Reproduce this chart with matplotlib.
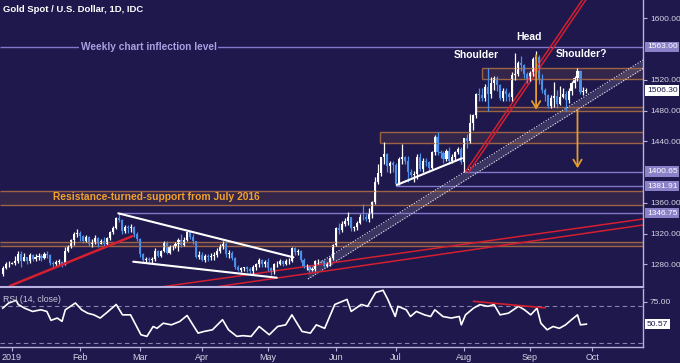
import matplotlib
matplotlib.use("Agg")
import matplotlib.pyplot as plt
import matplotlib.transforms as mtransforms
import numpy as np

# x = weekday index counted from 1 Jan 2019 (27 Dec 2018 = -3)
days = np.arange(-3, 194)
opens = [1267, 1275, 1280, 1281, 1282, 1284, 1294, 1285, 1289, 1284, 1292, 1287, 1289, 1291, 1288, 1293, 1292,
         1282, 1280, 1283, 1283, 1280, 1298, 1303, 1312, 1319, 1321, 1317, 1311, 1315, 1307, 1309, 1314, 1307,
         1311, 1306, 1314, 1322, 1327, 1340, 1338, 1323, 1329, 1327, 1328, 1319, 1313, 1293, 1286, 1287, 1286,
         1287, 1298, 1291, 1297, 1309, 1295, 1302, 1303, 1306, 1312, 1305, 1312, 1322, 1315, 1310, 1290, 1292,
         1286, 1291, 1290, 1291, 1292, 1298, 1303, 1306, 1293, 1295, 1288, 1276, 1273, 1275, 1276, 1274, 1271,
         1276, 1280, 1286, 1280, 1283, 1275, 1270, 1280, 1281, 1285, 1281, 1284, 1285, 1301, 1296, 1298, 1286,
         1277, 1278, 1273, 1274, 1284, 1285, 1284, 1278, 1280, 1288, 1305, 1327, 1325, 1333, 1337, 1341, 1327,
         1328, 1334, 1342, 1341, 1339, 1346, 1361, 1387, 1399, 1419, 1423, 1408, 1412, 1409, 1384, 1417, 1419,
         1415, 1400, 1396, 1397, 1420, 1404, 1415, 1413, 1405, 1426, 1446, 1426, 1425, 1417, 1427, 1414, 1419,
         1426, 1430, 1413, 1445, 1440, 1464, 1474, 1501, 1500, 1496, 1511, 1501, 1516, 1523, 1513, 1496, 1506,
         1502, 1498, 1526, 1528, 1542, 1539, 1527, 1520, 1529, 1547, 1550, 1520, 1507, 1500, 1486, 1497, 1499,
         1488, 1498, 1501, 1494, 1506, 1516, 1522, 1531, 1504, 1505]
highs = [1278, 1283, 1284, 1283, 1291, 1298, 1298, 1295, 1290, 1295, 1294, 1294, 1295, 1294, 1296, 1297, 1294,
         1284, 1286, 1287, 1285, 1302, 1305, 1313, 1322, 1326, 1323, 1318, 1318, 1317, 1313, 1318, 1315, 1313,
         1315, 1316, 1324, 1330, 1342, 1346.75, 1339, 1331, 1331, 1332, 1330, 1322, 1314, 1295, 1290, 1289, 1290,
         1301, 1299, 1299, 1311, 1310, 1305, 1305, 1309, 1314, 1320, 1315, 1324, 1323, 1320, 1311, 1297, 1296,
         1293, 1294, 1295, 1296, 1301, 1306, 1310, 1309, 1299, 1297, 1289, 1279, 1277, 1276, 1278, 1276, 1279,
         1282, 1288, 1287, 1286, 1288, 1276, 1282, 1285, 1287, 1286, 1287, 1288, 1303, 1302, 1300, 1299, 1288,
         1280, 1279, 1277, 1286, 1287, 1286, 1286, 1283, 1290, 1307, 1329, 1334, 1336, 1340, 1348, 1342, 1330,
         1337, 1345, 1358, 1345, 1353, 1362, 1393, 1411, 1420, 1439, 1425, 1415, 1414, 1412, 1419, 1437, 1421,
         1421, 1404, 1402, 1423, 1425, 1418, 1418, 1415, 1428, 1448, 1452.6, 1429, 1427, 1430, 1433, 1423, 1428,
         1432, 1433, 1445, 1449, 1475, 1475, 1503, 1509, 1510, 1515, 1535, 1524, 1525, 1525, 1514, 1509, 1509,
         1504, 1530, 1555, 1544, 1551, 1540, 1530, 1531, 1550, 1557, 1552, 1528, 1510, 1502, 1500, 1517, 1507,
         1512, 1509, 1506, 1510, 1518, 1525, 1535, 1533, 1511, 1509]
lows = [1265, 1274, 1276, 1280, 1279, 1282, 1276, 1285, 1280, 1282, 1284, 1285, 1286, 1284, 1287, 1288, 1279,
        1277, 1276, 1279, 1276, 1279, 1296, 1301, 1305, 1315, 1310, 1308, 1309, 1304, 1303, 1307, 1302, 1306,
        1303, 1304, 1312, 1320, 1326, 1335, 1320, 1321, 1321, 1322, 1315, 1311, 1290, 1283, 1282, 1281, 1281,
        1284, 1289, 1290, 1296, 1293, 1293, 1299, 1301, 1297, 1302, 1304, 1311, 1313, 1307, 1288, 1287, 1284,
        1283, 1285, 1286, 1286, 1290, 1295, 1300, 1290, 1288, 1286, 1274, 1271, 1270, 1272, 1270, 1266, 1268,
        1273, 1276, 1277, 1277, 1272, 1266, 1267, 1276, 1279, 1278, 1279, 1281, 1283, 1292, 1292, 1283, 1275,
        1273, 1270, 1271, 1272, 1280, 1282, 1276, 1276, 1278, 1286, 1304, 1320, 1322, 1330, 1331, 1324, 1323,
        1325, 1332, 1338, 1336, 1335, 1340, 1358, 1384, 1395, 1410, 1400, 1399, 1400, 1382, 1383, 1411, 1410,
        1387, 1393, 1387, 1391, 1401, 1400, 1408, 1400, 1404, 1422, 1422, 1418, 1412, 1414, 1411, 1412, 1415,
        1423, 1411, 1400.65, 1431, 1438, 1455, 1470, 1492, 1493, 1493, 1480, 1496, 1507, 1505, 1494, 1492, 1493,
        1492, 1493, 1520, 1525, 1532, 1522, 1516, 1518, 1525, 1539, 1515, 1503, 1492, 1484, 1483, 1485, 1484,
        1487, 1496, 1480, 1490, 1500, 1510, 1518, 1502, 1500, 1503]
closes = [1275, 1280, 1281, 1282, 1284, 1294, 1285, 1289, 1284, 1292, 1287, 1289, 1291, 1288, 1293, 1292, 1282,
          1280, 1283, 1283, 1280, 1298, 1303, 1312, 1319, 1321, 1317, 1311, 1315, 1307, 1309, 1314, 1307, 1311,
          1306, 1314, 1322, 1327, 1340, 1338, 1323, 1328, 1327, 1328, 1319, 1313, 1293, 1286, 1287, 1286, 1287,
          1298, 1291, 1297, 1309, 1295, 1302, 1303, 1306, 1312, 1305, 1312, 1322, 1315, 1310, 1290, 1292, 1286,
          1291, 1290, 1291, 1292, 1298, 1303, 1306, 1293, 1295, 1288, 1276, 1273, 1275, 1276, 1274, 1271, 1276,
          1280, 1286, 1280, 1283, 1275, 1270, 1280, 1281, 1285, 1281, 1284, 1285, 1301, 1296, 1298, 1286, 1277,
          1278, 1273, 1274, 1284, 1285, 1284, 1278, 1280, 1288, 1305, 1327, 1325, 1333, 1337, 1341, 1327, 1328,
          1334, 1342, 1341, 1339, 1346, 1361, 1387, 1399, 1419, 1423, 1408, 1412, 1409, 1384, 1417, 1419, 1415,
          1400, 1396, 1397, 1420, 1404, 1415, 1413, 1405, 1426, 1446, 1426, 1425, 1417, 1427, 1414, 1419, 1426,
          1430, 1413, 1445, 1440, 1464, 1474, 1501, 1500, 1496, 1511, 1501, 1516, 1523, 1513, 1496, 1506, 1502,
          1498, 1526, 1528, 1542, 1539, 1527, 1520, 1529, 1547, 1550, 1520, 1507, 1500, 1486, 1497, 1499, 1488,
          1498, 1501, 1494, 1506, 1516, 1522, 1531, 1504, 1505, 1506.3]

# RSI(14) trace: (day index, value)
rsi_days = [-3, -1, 1.5, 2.2, 4.3, 7, 9.8, 11.8, 13.2, 15.3, 16.9, 18, 21.4, 23.5, 25.5, 27.6, 29.7, 31.7, 35.1,
            37.2, 39.9, 43.4, 45.4, 47.5, 48.8, 50.9, 53.6, 56.4, 58.9, 60.5, 62.6, 64.6, 67.4, 70.8, 72.8, 75.6,
            77.6, 80.4, 83.1, 86.5, 89.3, 92, 94.1, 97.5, 100.3, 102.3, 105.1, 108.5, 112.6, 114, 117.4, 119.5,
            122.2, 124.7, 126.3, 128.8, 129.7, 132.5, 133.9, 135.9, 138.6, 140.7, 142.1, 144.8, 147.6, 150.3, 151,
            152.4, 155.1, 157.2, 159.9, 162, 164, 166.8, 170.2, 172.2, 174.3, 176.4, 177.7, 179.8, 181.8, 183.9,
            186, 188, 190, 191, 193]
rsi_vals = [68, 73.6, 76.5, 72, 68, 64.4, 66.2, 64.4, 54.7, 57.2, 53.6, 66.2, 73.6, 66.2, 62.5, 60.7, 57.2, 62.5,
            72, 60.7, 60.7, 39, 37.2, 48, 46, 51.6, 49.8, 53.4, 60, 51.6, 40.8, 42.6, 44.4, 55.4, 44.4, 37.2, 38,
            37.2, 48, 39, 48, 49.8, 60.7, 42.6, 40.8, 49.8, 46, 72, 77.5, 64.4, 72, 70, 85, 87.5, 77.5, 58.9, 70,
            66.2, 58.9, 64.4, 60.7, 58.9, 66.2, 58.9, 57.2, 58.9, 49.8, 60.7, 68, 71.8, 70, 71.8, 60.7, 62.5, 70,
            66.2, 60.7, 68, 51.6, 44.4, 48, 46, 49.8, 55.4, 60.7, 49.8, 50.57]

month_ticks = [0, 23, 43, 64, 86, 109, 129, 152, 174, 195]
month_labels = ["2019", "Feb", "Mar", "Apr", "May", "Jun", "Jul", "Aug", "Sep", "Oct"]
price_ticks = [1280, 1320, 1360, 1440, 1480, 1520, 1600]

# marked levels: (price, start day, box label)
levels = [(1563.0, -4, "1563.00"), (1400.65, 152, "1400.65"), (1381.91, 129, "1381.91"), (1346.75, 36, "1346.75")]
# zones: (low, high, start day)
zones = [(1520.7, 1535.0, 158), (1480.0, 1484.5, 156), (1437.5, 1452.5, 123.7),
         (1357.2, 1375.4, -4), (1303.9, 1309.1, -4)]
# trendlines: ((day, price), (day, price))
red_thick = [((-0.6, 1252), (40.7, 1317))]
red_thin = [((50, 1250.6), (212, 1339)), ((68.3, 1250.6), (212, 1331.2)),
            ((152.3, 1400), (191.6, 1623.8)), ((153.5, 1400), (192.8, 1623.8))]
white_lines = [((35.8, 1346.4), (94.6, 1289.2)), ((40.8, 1283.5), (89, 1262.7)),
               ((129.3, 1383.3), (151.2, 1418))]
channel_upper = [(99.5, 1272.7), (212, 1545.8)]
channel_lower = [(99.5, 1261.0), (212, 1534.7)]
arrows = [((176.1, 1552), (176.1, 1481)), ((190, 1481), (190, 1405))]
rsi_divergence = [(155.1, 75.4), (179.1, 68.3)]

BG = "#1e184c"
LAV = "#8178c8"
BROWN = "#9c6445"
RED = "#d41f30"
UP = "#ffffff"
DOWN = "#4d8fe6"
ORANGE = "#e59c2c"
TXT = "#d6d4e6"
FS_AX = 6.0

plt.rcParams["font.family"] = ["Liberation Sans", "DejaVu Sans"]

fig = plt.figure(figsize=(6.8, 3.63), dpi=100, facecolor=BG)
ax = fig.add_axes([0, 1 - 287 / 363, 643 / 680, 287 / 363], facecolor=BG)
rx = fig.add_axes([0, 1 - 346.5 / 363, 643 / 680, 58 / 363], facecolor=BG)

XMIN, XMAX = -3.93, 212.0
ax.set_xlim(XMIN, XMAX)
ax.set_ylim(1250.6, 1623.8)
rx.set_xlim(XMIN, XMAX)
rx.set_ylim(26.2, 89.4)

for a in (ax, rx):
    for s in a.spines.values():
        s.set_visible(False)
    a.spines["right"].set_visible(True)
    a.spines["right"].set_color("#b8b2e0")
    a.spines["right"].set_linewidth(1)
    a.yaxis.tick_right()
ax.spines["bottom"].set_visible(True)
ax.spines["bottom"].set_color("#b8b2e0")
ax.spines["bottom"].set_linewidth(1.5)
rx.spines["bottom"].set_visible(True)
rx.spines["bottom"].set_color("#b8b2e0")
rx.spines["bottom"].set_linewidth(1)

# zones and levels
for lo, hi, x0 in zones:
    ax.fill_between([x0, XMAX], lo, hi, color=BROWN, alpha=0.18, lw=0)
    ax.hlines([lo, hi], x0, XMAX, color=BROWN, lw=1)
    if x0 > XMIN:
        ax.vlines(x0, lo, hi, color=BROWN, lw=1)
for price, x0, _ in levels:
    ax.hlines(price, max(x0, XMIN), XMAX, color=LAV, lw=1)

# channel
xs = np.array([channel_upper[0][0], channel_upper[1][0]])
up_y = np.array([channel_upper[0][1], channel_upper[1][1]])
lo_y = np.array([channel_lower[0][1], channel_lower[1][1]])
ax.fill_between(xs, lo_y, up_y, color="white", alpha=0.13, lw=0)
ax.plot(xs, up_y, color="white", lw=0.8, ls=(0, (1, 1.5)), alpha=0.9)
ax.plot(xs, lo_y, color="white", lw=0.8, ls=(0, (1, 1.5)), alpha=0.9)

for (x0, y0), (x1, y1) in red_thin:
    ax.plot([x0, x1], [y0, y1], color=RED, lw=1.1)

# candles
o = np.array(opens); h = np.array(highs); l = np.array(lows); c = np.array(closes)
cols = np.where(c >= o, UP, DOWN)
ax.vlines(days, l, h, colors=cols, lw=0.9)
body_lo = np.minimum(o, c)
body_h = np.maximum(np.abs(c - o), 0.8)
ax.bar(days, body_h, bottom=body_lo, width=0.7, color=cols, lw=0)

for (x0, y0), (x1, y1) in red_thick:
    ax.plot([x0, x1], [y0, y1], color=RED, lw=1.8, solid_capstyle="round")
for (x0, y0), (x1, y1) in white_lines:
    ax.plot([x0, x1], [y0, y1], color="white", lw=1.5, solid_capstyle="round")

for (x0, y0), (x1, y1) in arrows:
    ax.annotate("", xy=(x1, y1), xytext=(x0, y0),
                arrowprops=dict(arrowstyle="->,head_length=0.5,head_width=0.3", color=ORANGE, lw=1.3,
                                shrinkA=0, shrinkB=0))

# annotations
ax.text(46, 1563, "Weekly chart inflection level", color="#a8a0e2", fontsize=7.3, fontweight="bold",
        ha="center", va="center", bbox=dict(boxstyle="square,pad=0.15", fc=BG, ec="none"))
ax.text(48.6, 1367, "Resistance-turned-support from July 2016", color="#f2a22a", fontsize=7.4,
        fontweight="bold", ha="center", va="center")
ax.text(173.6, 1576, "Head", color="white", fontsize=7.5, fontweight="bold", ha="center", va="center")
ax.text(156.1, 1552.5, "Shoulder", color="white", fontsize=7.5, fontweight="bold", ha="center", va="center")
ax.text(191.2, 1553.5, "Shoulder?", color="white", fontsize=7.5, fontweight="bold", ha="center", va="center")

# price axis
ax.set_xticks([])
ax.set_yticks(price_ticks)
ax.set_yticklabels([f"{p:.2f}" for p in price_ticks])
ax.tick_params(axis="y", colors="#b8b2e0", labelcolor=TXT, length=3, width=0.8, pad=2, labelsize=FS_AX)
trans = mtransforms.blended_transform_factory(ax.transAxes, ax.transData)
for price, _, lab in levels:
    ax.text(1.006, price, lab, transform=trans, ha="left", va="center", fontsize=FS_AX, color="white",
            clip_on=False, bbox=dict(boxstyle="square,pad=0.2", fc="#8a81c8", ec="none"))
ax.text(1.006, closes[-1], f"{closes[-1]:.2f}", transform=trans, ha="left", va="center", fontsize=FS_AX,
        color=BG, clip_on=False, bbox=dict(boxstyle="square,pad=0.2", fc="white", ec="none"))

# RSI panel
rx.axhline(70, color="#8884ac", lw=0.8, ls=(0, (4, 3)))
rx.axhline(30, color="#8884ac", lw=0.8, ls=(0, (4, 3)))
rx.plot(rsi_days, rsi_vals, color="white", lw=1.2)
rx.plot([p[0] for p in rsi_divergence], [p[1] for p in rsi_divergence], color=RED, lw=1.2)
rx.set_yticks([75])
rx.set_yticklabels(["75.00"])
rx.tick_params(axis="y", colors="#b8b2e0", labelcolor=TXT, length=3, width=0.8, pad=2, labelsize=FS_AX)
rtrans = mtransforms.blended_transform_factory(rx.transAxes, rx.transData)
rx.text(1.006, rsi_vals[-1], f"{rsi_vals[-1]:.2f}", transform=rtrans, ha="left", va="center",
        fontsize=FS_AX, color=BG, clip_on=False, bbox=dict(boxstyle="square,pad=0.2", fc="white", ec="none"))
rx.set_xticks(month_ticks)
rx.set_xticklabels(month_labels)
rx.tick_params(axis="x", colors="#b8b2e0", labelcolor=TXT, length=3, width=0.8, pad=1.5, labelsize=6.5)

fig.text(3 / 680, 1 - 10 / 363, "Gold Spot / U.S. Dollar, 1D, IDC", color="white", fontsize=6.8,
         fontweight="bold", ha="left", va="center")
fig.text(3 / 680, 1 - 299.5 / 363, "RSI (14, close)", color="#c8c6d8", fontsize=6.3, ha="left", va="center")

fig.savefig("out.png", dpi=100, facecolor=BG)
plt.close(fig)
